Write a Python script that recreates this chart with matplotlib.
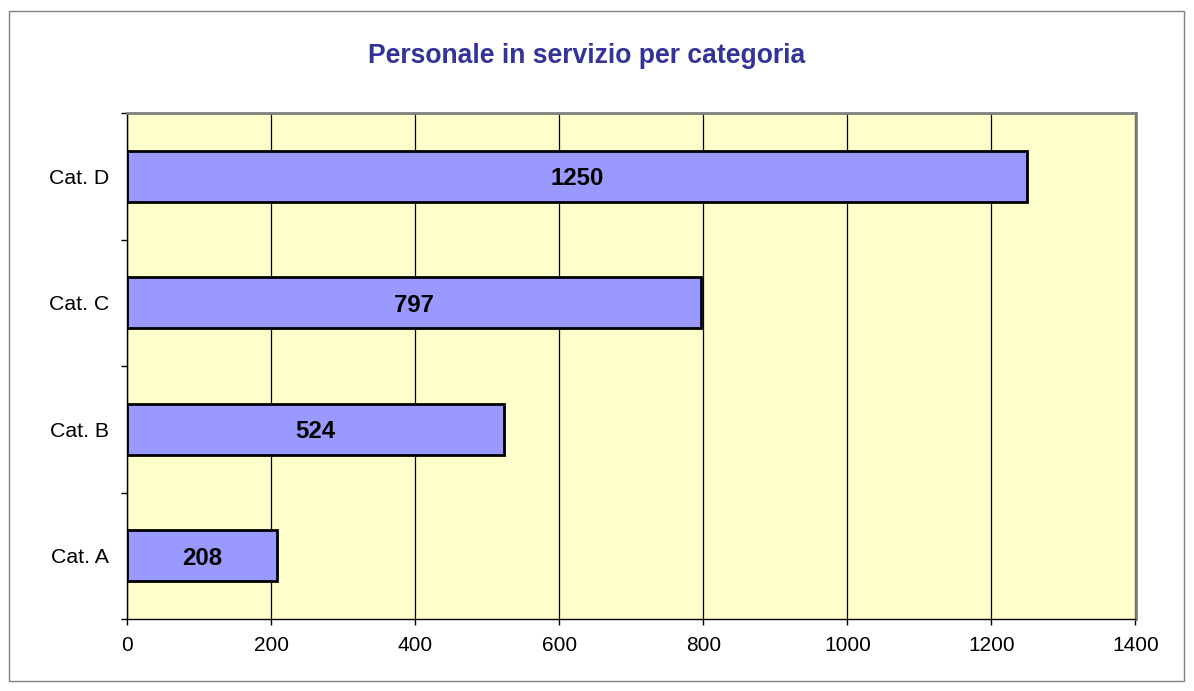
import matplotlib
matplotlib.use("Agg")
import matplotlib.pyplot as plt
from matplotlib.patches import Rectangle

categories = ["Cat. A", "Cat. B", "Cat. C", "Cat. D"]
values = [208, 524, 797, 1250]
xticks = [0, 200, 400, 600, 800, 1000, 1200, 1400]
title = "Personale in servizio per categoria"

plt.rcParams['font.family'] = ['Liberation Sans', 'DejaVu Sans']

W, H = 1194, 691
fig = plt.figure(figsize=(W / 100, H / 100), dpi=100)
fig.patch.set_facecolor("white")
fig.patches.append(Rectangle((9 / W, 1 - 681 / H), (1184 - 9) / W, (681 - 11) / H,
                             transform=fig.transFigure, fill=False,
                             edgecolor="#808080", linewidth=1.0))

left, top, right, bottom = 127, 113, 1135.5, 619
ax = fig.add_axes([left / W, 1 - bottom / H, (right - left) / W, (bottom - top) / H])
ax.set_facecolor("#FFFFCC")

ypos = list(range(len(categories)))
ax.barh(ypos, values, height=0.4, color="#9999FF", edgecolor="black", linewidth=2, zorder=3)
for y, v in zip(ypos, values):
    ax.text(v / 2, y, str(v), ha="center", va="center_baseline", fontsize=17.3,
            fontweight="bold", color="black", zorder=4)

ax.set_xlim(0, 1400)
ax.set_ylim(-0.5, len(categories) - 0.5)
ax.set_xticks(xticks)
ax.set_xticklabels([str(t) for t in xticks], fontsize=15)
ax.xaxis.grid(True, color="black", linewidth=0.9, zorder=1)
ax.set_axisbelow(True)

ax.set_yticks(ypos)
ax.set_yticklabels(categories, fontsize=15.3)
ax.tick_params(axis="y", length=0, pad=13)
ax.set_yticks([-0.5 + i for i in range(len(categories) + 1)], minor=True)
ax.tick_params(axis="y", which="minor", length=4.3, width=1, color="black")
ax.tick_params(axis="x", length=4.3, width=1, pad=8, color="black")

for s in ["top", "right"]:
    ax.spines[s].set_color("#808080")
    ax.spines[s].set_linewidth(2)
for s in ["left", "bottom"]:
    ax.spines[s].set_color("black")
    ax.spines[s].set_linewidth(1)

fig.text(587 / W, 1 - 63 / H, title, ha="center", va="baseline", fontsize=19.1,
         fontweight="bold", color="#333399")

fig.savefig("out.png", dpi=100)
